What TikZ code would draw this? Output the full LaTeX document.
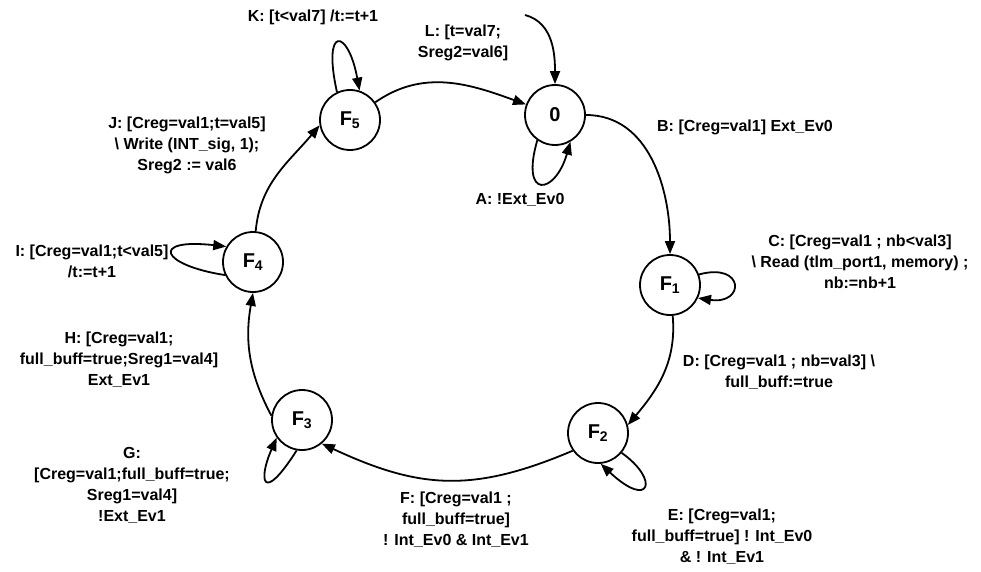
\documentclass[tikz,border=0pt]{standalone}
\usepackage{fontspec}
\setmainfont{Liberation Sans}
\usetikzlibrary{arrows.meta}
\begin{document}
\begin{tikzpicture}[x=1pt,y=-1pt,
  state/.style={circle,draw,line width=1.8pt,minimum size=60pt,inner sep=0pt,font=\fontsize{20}{20}\selectfont\bfseries},
  lbl/.style={align=center,font=\fontsize{16}{21}\selectfont\bfseries,inner sep=0pt},
  edge/.style={line width=1.8pt,-{Triangle[length=13pt,width=10pt]}},
]
\useasboundingbox (0,0) rectangle (981,572);
\node[state] (S0) at (555,115) {0};
\node[state] (F5) at (350,120) {F\textsubscript{5}};
\node[state] (F1) at (670,285) {F\textsubscript{1}};
\node[state] (F2) at (598,433) {F\textsubscript{2}};
\node[state] (F3) at (302,420) {F\textsubscript{3}};
\node[state] (F4) at (253,262) {F\textsubscript{4}};
\coordinate (init) at (525,15);

\draw[edge] (init) to[out=-15,in=90] (S0);
\draw[edge] (S0) to[out=0,in=90] (F1);
\draw[edge] (F1) to[out=-85,in=50] (F2.15);
\draw[edge] (F2.215) to[out=203,in=-25,looseness=1.1] (F3.-50);
\draw[edge] (F3.172) to[out=118,in=-100] (F4.-90);
\draw[edge] (F4) to[out=85,in=230] (F5.190);
\draw[edge] (F5) to[out=35,in=160] (S0);

\draw[edge] (F5.115) .. controls (322,25) and (348,28) .. (F5.72);
\draw[edge] (S0.235) .. controls (520,200) and (555,195) .. (S0.300);
\draw[edge] (F1.20) .. controls (745,262) and (745,305) .. (F1.-25);
\draw[edge] (F2.-40) .. controls (660,480) and (650,510) .. (F2.-85);
\draw[edge] (F3.-100) .. controls (262,505) and (258,480) .. (F3.-145);
\draw[edge] (F4.-155) .. controls (160,265) and (150,238) .. (F4.150);

\node[lbl] (lK) at (313,17) {K: [t<val7] /t:=t+1};
\node[lbl] (lL) at (463,43) {L: [t=val7;\\Sreg2=val6]};
\node[lbl] (lA) at (520,200) {A: !Ext\_Ev0};
\node[lbl] (lB) at (745,127) {B: [Creg=val1] Ext\_Ev0};
\node[lbl] (lC) at (860,262) {C: [Creg=val1 ; nb<val3]\\\textbackslash{} Read (tlm\_port1, memory) ;\\nb:=nb+1};
\node[lbl] (lD) at (779,372) {D: [Creg=val1 ; nb=val3] \textbackslash\\full\_buff:=true};
\node[lbl] (lE) at (722,537) {E: [Creg=val1;\\full\_buff=true] ! Int\_Ev0\\\& ! Int\_Ev1};
\node[lbl] (lF) at (456,520) {F: [Creg=val1 ;\\full\_buff=true]\\! Int\_Ev0 \& Int\_Ev1};
\node[lbl] (lG) at (132,485) {G:\\{}[Creg=val1;full\_buff=true;\\Sreg1=val4]\\!Ext\_Ev1};
\node[lbl] (lH) at (119,360) {H: [Creg=val1;\\full\_buff=true;Sreg1=val4]\\Ext\_Ev1};
\node[lbl] (lI) at (92,261) {I: [Creg=val1;t<val5]\\/t:=t+1};
\node[lbl] (lJ) at (187,145) {J: [Creg=val1;t=val5]\\\textbackslash{} Write (INT\_sig, 1);\\Sreg2 := val6};
\end{tikzpicture}
\end{document}
